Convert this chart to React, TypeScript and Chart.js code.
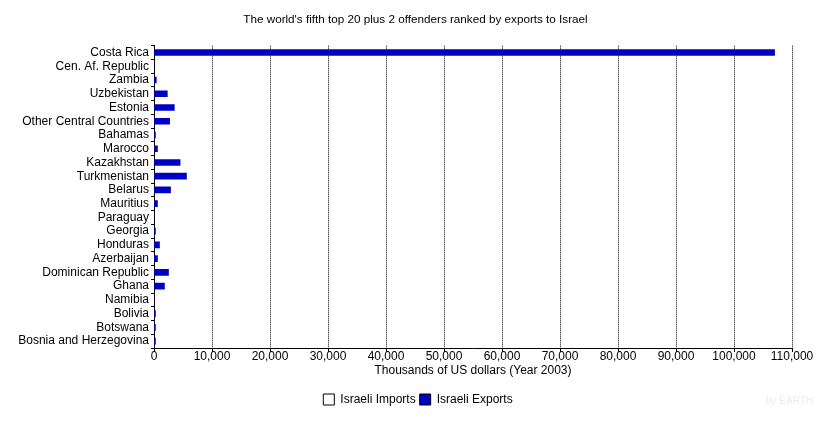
import React, { useEffect, useRef } from "react";
import { Chart, registerables } from "chart.js";

Chart.register(...registerables);

const countries = [
  "Costa Rica",
  "Cen. Af. Republic",
  "Zambia",
  "Uzbekistan",
  "Estonia",
  "Other Central Countries",
  "Bahamas",
  "Marocco",
  "Kazakhstan",
  "Turkmenistan",
  "Belarus",
  "Mauritius",
  "Paraguay",
  "Georgia",
  "Honduras",
  "Azerbaijan",
  "Dominican Republic",
  "Ghana",
  "Namibia",
  "Bolivia",
  "Botswana",
  "Bosnia and Herzegovina",
];

// Thousands of US dollars, 2003
const israeliImports = [0, 0, 0, 0, 0, 0, 0, 0, 0, 0, 0, 0, 0, 0, 0, 0, 0, 0, 0, 0, 0, 0];
const israeliExports = [
  107000, 0, 400, 2300, 3500, 2700, 250, 600, 4500, 5600, 2850, 600, 0, 250, 950, 600, 2500, 1800, 0,
  250, 250, 250,
];

const chartTitle = "The world's fifth top 20 plus 2 offenders ranked by exports to Israel";
const xAxisTitle = "Thousands of US dollars (Year 2003)";
const seriesNames = ["Israeli Imports", "Israeli Exports"];
const xMax = 110000;
const xStep = 10000;

const FONT = "'Liberation Sans', Arial, Helvetica, sans-serif";
const EXPORT_BLUE = "#0000c4";

export default function App() {
  const canvasRef = useRef<HTMLCanvasElement | null>(null);

  useEffect(() => {
    document.body.style.margin = "0";
    const canvas = canvasRef.current;
    if (!canvas) return;

    // Centres the title and legend on the whole canvas, and stamps the credit text
    const framePlugin = {
      id: "frame",
      afterLayout(chart: any) {
        if (chart.titleBlock) {
          chart.titleBlock.left = 0;
          chart.titleBlock.right = 831;
        }
        if (chart.legend) {
          chart.legend.left = 0;
          chart.legend.right = 836;
        }
      },
      afterDraw(chart: any) {
        const ctx = chart.ctx;
        ctx.save();
        ctx.fillStyle = "#ececec";
        ctx.font = `10px ${FONT}`;
        ctx.textBaseline = "middle";
        ctx.textAlign = "left";
        ctx.fillText("by EARTH", 766, 401);
        ctx.restore();
      },
    };

    const chart = new Chart(canvas, {
      type: "bar",
      data: {
        labels: countries,
        datasets: [
          {
            label: seriesNames[0],
            data: israeliImports,
            backgroundColor: "#ffffff",
            borderColor: "#000000",
            borderWidth: 1,
            grouped: false,
            barThickness: 6,
          },
          {
            label: seriesNames[1],
            data: israeliExports,
            backgroundColor: EXPORT_BLUE,
            borderColor: "#000000",
            borderWidth: 0,
            grouped: false,
            barThickness: 6,
          },
        ],
      },
      plugins: [framePlugin],
      options: {
        indexAxis: "y",
        animation: false,
        responsive: false,
        maintainAspectRatio: false,
        layout: { padding: { top: 0, right: 46, bottom: 7.5, left: 0 } },
        font: { family: FONT, size: 12 },
        plugins: {
          tooltip: { enabled: false },
          title: {
            display: true,
            text: chartTitle,
            color: "#000",
            font: { family: FONT, size: 11.7, weight: "normal" },
            padding: { top: 13, bottom: 18.6 },
          },
          legend: {
            position: "bottom",
            labels: {
              color: "#000",
              font: { family: FONT, size: 12 },
              boxWidth: 11,
              boxHeight: 11,
              padding: 4,
              generateLabels: () => [
                {
                  text: seriesNames[0],
                  fillStyle: "#ffffff",
                  strokeStyle: "#000000",
                  lineWidth: 1,
                  datasetIndex: 0,
                  hidden: false,
                },
                {
                  text: seriesNames[1],
                  fillStyle: EXPORT_BLUE,
                  strokeStyle: "#000000",
                  lineWidth: 1,
                  datasetIndex: 1,
                  hidden: false,
                },
              ],
            },
          },
        },
        scales: {
          x: {
            type: "linear",
            min: 0,
            max: xMax,
            afterFit: (scale: any) => {
              scale.height = 41.5;
            },
            ticks: {
              stepSize: xStep,
              color: "#000",
              font: { family: FONT, size: 12, lineHeight: 1 },
              padding: -1,
              maxRotation: 0,
              callback: (v: any) => Number(v).toLocaleString("en-US"),
            },
            grid: {
              color: "#000",
              lineWidth: 1,
              drawTicks: true,
              tickLength: 4,
              tickColor: "#000",
            },
            border: { display: true, color: "#000", width: 1, dash: [1, 1] },
            title: {
              display: true,
              text: xAxisTitle,
              color: "#000",
              font: { family: FONT, size: 12 },
              padding: { top: 0, bottom: 11.3 },
            },
          },
          y: {
            type: "category",
            afterFit: (scale: any) => {
              scale.width = 154;
            },
            ticks: {
              color: "#000",
              font: { family: FONT, size: 12 },
              padding: 2,
              autoSkip: false,
            },
            grid: {
              drawOnChartArea: false,
              drawTicks: true,
              tickLength: 3,
              tickColor: "#000",
              offset: true,
            },
            border: { display: true, color: "#000", width: 1 },
          },
        },
      },
    } as any);

    return () => chart.destroy();
  }, []);

  return (
    <div style={{ position: "relative", width: 838, height: 423, background: "#fff" }}>
      <canvas ref={canvasRef} width={838} height={423} style={{ display: "block" }} />
    </div>
  );
}
